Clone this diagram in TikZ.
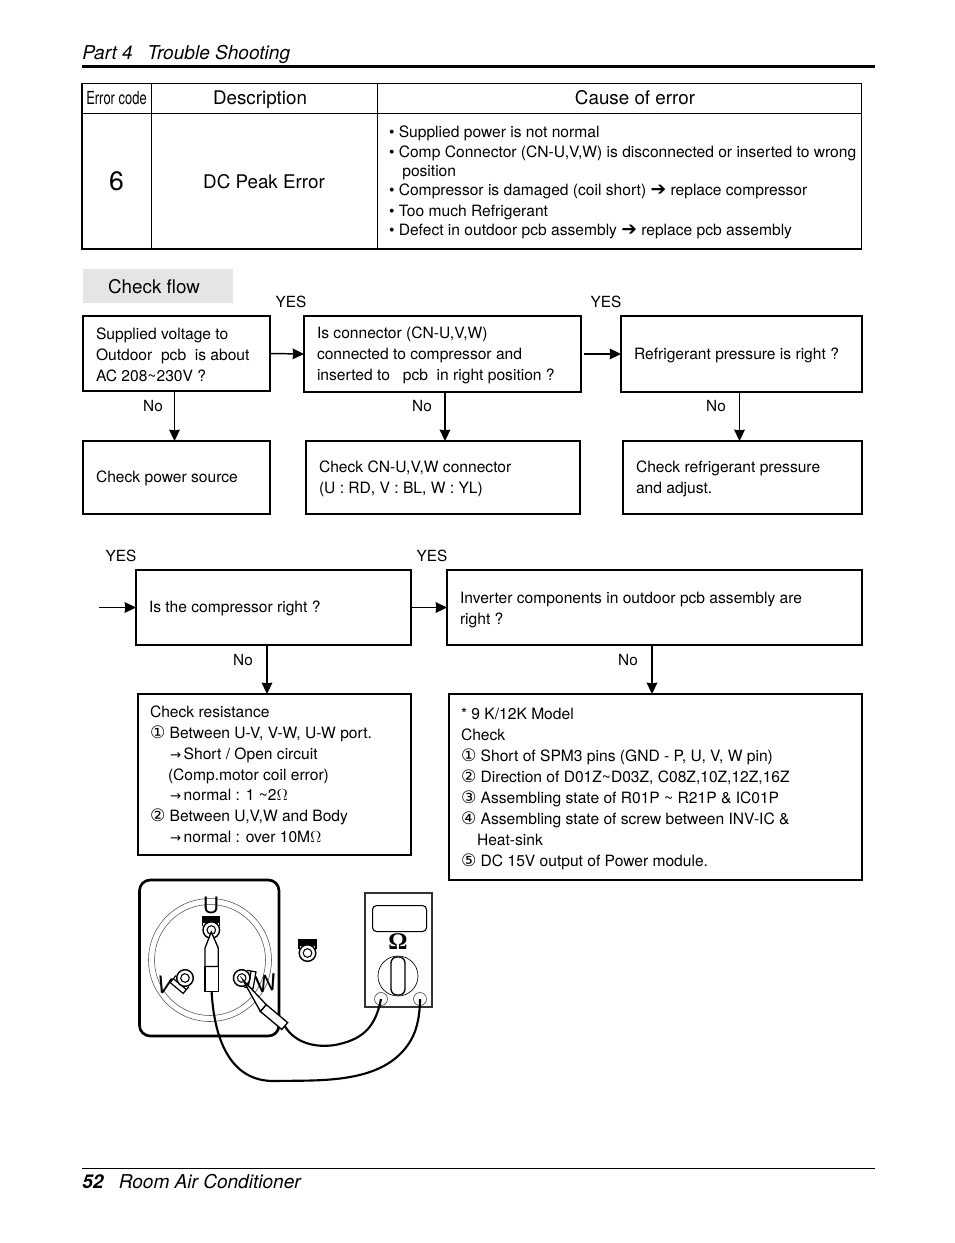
\documentclass[tikz,border=0pt]{standalone}
\usepackage{fontspec}
\usepackage{graphicx}
\setmainfont{TeX Gyre Heros}
\newfontfamily\symfont{DejaVu Sans}
\newfontfamily\ohmfont{Liberation Serif}
\usetikzlibrary{positioning, arrows.meta}
\def\px{0.75pt}
\newcommand{\circnum}[1]{{\symfont\scalebox{1.1}{#1}}}
\newcommand{\smallto}{{\symfont\scalebox{0.85}{→}}\,}
\newcommand{\bigto}{{\symfont\scalebox{1.2}{➔}}}
\begin{document}
\begin{tikzpicture}[x=\px, y=-\px]
    % Define styles
    \tikzset{
        bodyfont/.style={font=\fontsize{11.7}{15.75}\selectfont},
        flowbox/.style 2 args={draw, line width=1.1pt, anchor=north west, outer sep=0pt, inner ysep=0pt, inner xsep=13*\px,
            text width=#1*\px-26*\px, minimum height=#2*\px, text height=10.2pt, align=flush left, bodyfont},
        cellbox/.style 2 args={draw, line width=0.7pt, anchor=north west, outer sep=0pt, inner ysep=0pt, inner xsep=0pt,
            minimum width=#1*\px, minimum height=#2*\px, text height=9.4pt, text depth=0pt, align=center, font=\fontsize{14.1}{17}\selectfont},
        arrow/.style={-{Stealth[length=8.5pt, width=8pt, inset=0.5pt]}, line width=1.1pt},
        label/.style={font=\fontsize{11.5}{14}\selectfont, text height=8.5pt, text depth=0.5pt},
        wire/.style={line width=1.6pt},
        letterfont/.style={font=\fontsize{17}{18}\selectfont, inner sep=0pt},
        pics/ringlug/.style={code={
            \filldraw[fill=#1, line width=0.9pt] (-8.5,-13) rectangle (8.5,-8);
            \draw[line width=0.9pt] (-8.5,-8) -- (-8.5,-4) (8.5,-8) -- (8.5,-4);
            \draw[line width=1.1pt, fill=white] (0,0) circle (8.3);
            \draw[line width=0.8pt] (0,0) circle (4.3);
        }}
    }
    \useasboundingbox (0,0) rectangle (954,1243);
    % Page header and footer
    \node[anchor=base west, inner sep=0pt, font=\fontsize{14.3}{17}\selectfont\itshape] (parttitle) at (82,59) {Part 4\hspace{11pt}Trouble Shooting};
    \coordinate (headend) at (875,66.5);
    \draw[line width=2.2pt] (82,66.5) -- (headend);
    \coordinate (footend) at (875,1168);
    \draw[line width=0.7pt] (82,1168) -- (footend);
    \node[anchor=base west, inner sep=0pt, font=\fontsize{14.3}{17}\selectfont\itshape] (pagetitle) at (82,1188) {\textbf{52}\hspace{11.5pt}Room Air Conditioner};
    % Error table
    \node[cellbox={69}{30}] (hcode) at (82,83) {\fontsize{13.5}{16}\selectfont\scalebox{0.72}[1]{Error code}};
    \node[cellbox={226}{30}] (hdesc) at (151,83) {Description\hspace*{6pt}};
    \node[cellbox={484}{30}] (hcause) at (377,83) {\hspace*{24pt}Cause of error};
    \node[cellbox={69}{136}, font=\fontsize{20}{24}\selectfont, text height=14pt] (ccode) at (82,113) {6};
    \node[cellbox={226}{136}, text height=11pt] (cdesc) at (151,113) {DC Peak Error};
    \node[flowbox={484}{136}, line width=0.7pt, inner xsep=12*\px, text width=460*\px, font=\fontsize{11.7}{14.5}\selectfont, text height=10.95pt] (ccause) at (377,113) {%
        • Supplied power is not normal\\
        \mbox{• Comp Connector (CN-U,V,W) is disconnected or inserted to wrong}\\
        \hspace*{10pt}position\\
        • Compressor is damaged (coil short) \bigto\ replace compressor\\[0.8pt]
        • Too much Refrigerant\\
        • Defect in outdoor pcb assembly \bigto\ replace pcb assembly};
    % Heavier left and bottom edge of the table
    \draw[line width=1.5pt] (hcode.north west) -- (ccode.south west) -- (ccause.south east);
    % Check flow title
    \node[fill=black!10, anchor=north west, outer sep=0pt, inner sep=0pt, minimum width=150*\px, minimum height=34*\px, text height=11pt, text depth=0pt, font=\fontsize{14.1}{17}\selectfont] (flowtitle) at (83,269) {Check flow\hspace*{6pt}};
    % First row of the flow
    \node[flowbox={187}{75}] (supply) at (83,316) {Supplied voltage to\\Outdoor\ \ pcb\ \ is about\\AC 208\textasciitilde230V ?};
    \node[flowbox={277}{76}] (conn) at (304,316) {Is connector (CN-U,V,W)\\connected to compressor and\\inserted to\ \ \ pcb\ \ in right position ?};
    \node[flowbox={241}{76}] (refrig) at (621,316) {Refrigerant pressure is right ?};
    \node[flowbox={187}{73}] (power) at (83,441) {Check power source};
    \node[flowbox={274}{73}] (cncheck) at (306,441) {Check CN-U,V,W connector\\(U : RD, V : BL, W : YL)};
    \node[flowbox={239}{73}] (refadj) at (623,441) {Check refrigerant pressure\\and adjust.};
    \draw[arrow] (supply.east) -- (conn.west);
    \draw[arrow] ([xshift=2pt]conn.east) -- (refrig.west);
    \draw[arrow] ([xshift=-1.5pt]supply.south) -- ([xshift=-1.5pt]power.north);
    \draw[arrow] (conn.south -| 445,0) -- (cncheck.north -| 445,0);
    \draw[arrow] ([xshift=-1.5pt]refrig.south) -- ([xshift=-1.5pt]refrig.south |- refadj.north);
    \node[label] (yesa) at (291,302) {YES};
    \node[label] (yesb) at (606,302) {YES};
    \node[label] (noa) at (153,406) {No};
    \node[label] (nob) at (422,406) {No};
    \node[label] (noc) at (716,406) {No};
    % Second row of the flow
    \node[flowbox={275}{75}] (compr) at (136,570) {Is the compressor right ?};
    \node[flowbox={415}{75}, text height=11.7pt] (inverter) at (447,570) {Inverter components in outdoor pcb assembly are\\right ?};
    \node[flowbox={273}{161}, inner xsep=12*\px, text width=249*\px, font=\fontsize{11.7}{15.6}\selectfont, text height=8.7pt] (resist) at (138,694) {%
        Check resistance\\
        \circnum{①} Between U-V, V-W, U-W port.\\
        \hspace*{15pt}\smallto Short / Open circuit\\
        \hspace*{13.5pt}(Comp.motor coil error)\\
        \hspace*{15pt}\smallto normal : 1 \textasciitilde2$\Omega$\\
        \circnum{②} Between U,V,W and Body\\
        \hspace*{15pt}\smallto normal : over 10M$\Omega$};
    \node[flowbox={413}{186}, inner xsep=12*\px, text width=389*\px, text height=11.7pt] (model) at (449,694) {%
        * 9 K/12K Model\\
        Check\\
        \circnum{①} Short of SPM3 pins (GND - P, U, V, W pin)\\
        \circnum{②} Direction of D01Z\textasciitilde D03Z, C08Z,10Z,12Z,16Z\\
        \circnum{③} Assembling state of R01P \textasciitilde\ R21P \& IC01P\\
        \circnum{④} Assembling state of screw between INV-IC \&\\
        \hspace*{12pt}Heat-sink\\
        \circnum{⑤} DC 15V output of Power module.};
    \coordinate (entry) at (99,607.5);
    \draw[arrow] (entry) -- (compr.west);
    \draw[arrow] (compr.east) -- (inverter.west);
    \draw[arrow] (compr.south -| 267,0) -- (resist.north -| 267,0);
    \draw[arrow] (inverter.south -| 652,0) -- (model.north -| 652,0);
    \node[label] (yesc) at (121,556) {YES};
    \node[label] (yesd) at (432,556) {YES};
    \node[label] (nod) at (243,660) {No};
    \node[label] (noe) at (628,660) {No};
    % Compressor terminals
    \draw[line width=2pt, rounded corners=8] (139.5,880) rectangle (279,1036);
    \draw[line width=0.4pt, draw=black!70] (210,960) circle (61.5);
    \draw[line width=0.4pt, draw=black!70] (210,960) circle (55.5);
    \node[letterfont] (letteru) at (211,905.5) {U};
    \node[letterfont, rotate=-15] (letterv) at (164,985) {V};
    \node[letterfont, rotate=10] (letterw) at (266,983) {W};
    \pic at (211.3,930) {ringlug=black};
    \pic[rotate=140] at (185,978) {ringlug=white};
    \pic[rotate=-100] at (241.7,978) {ringlug=white};
    \pic at (307.5,953) {ringlug=black};
    % Test probes
    \node[draw, fill=white, line width=1pt, minimum width=13.3*\px, minimum height=25*\px, inner sep=0pt, outer sep=0pt] (handleu) at (211.6,979) {};
    \draw[fill=white, line width=1pt] (handleu.north west) -- (205,948) -- (211.3,932) -- (218.3,948) -- (handleu.north east) -- cycle;
    \node[draw, fill=white, line width=1pt, minimum width=9*\px, minimum height=28*\px, inner sep=0pt, outer sep=0pt, rotate=50] (handlew) at (274,1017) {};
    \draw[fill=white, line width=1pt] (handlew.north west) -- (243,980) -- (handlew.north east) -- cycle;
    % Multimeter
    \node[draw, draw=black!80, line width=1pt, anchor=north west, outer sep=0pt, inner sep=0pt, minimum width=67*\px, minimum height=114*\px] (meter) at (365,893) {};
    \node[draw, line width=0.8pt, rounded corners=3, anchor=north west, inner sep=0pt, minimum width=54*\px, minimum height=26*\px] (display) at (372,905) {};
    \node[inner sep=0pt, font=\ohmfont\fontsize{18}{20}\selectfont\bfseries] (ohm) at (398,942) {Ω};
    \node[draw, circle, line width=0.5pt, inner sep=0pt, minimum size=40*\px] (dial) at (398,976) {};
    \node[draw, line width=1pt, rounded corners=4.5, inner sep=0pt, minimum width=14*\px, minimum height=38*\px] (knob) at (398,976) {};
    \node[draw, circle, line width=0.5pt, draw=black!70, inner sep=0pt, minimum size=13*\px] (jackl) at (381,999) {};
    \node[draw, circle, line width=0.5pt, draw=black!70, inner sep=0pt, minimum size=13*\px] (jackr) at (420,999) {};
    % Leads to the meter
    \draw[wire] (handleu.south) .. controls (214,1035) and (228,1082) .. (275,1081) .. controls (320,1080) and (385,1085) .. (411,1040) .. controls (418,1028) and (420,1012) .. (jackr.center);
    \draw[wire] (handlew.south) .. controls (295,1043) and (315,1048) .. (335,1045) .. controls (360,1040) and (375,1030) .. (jackl.center);
\end{tikzpicture}
\end{document}
